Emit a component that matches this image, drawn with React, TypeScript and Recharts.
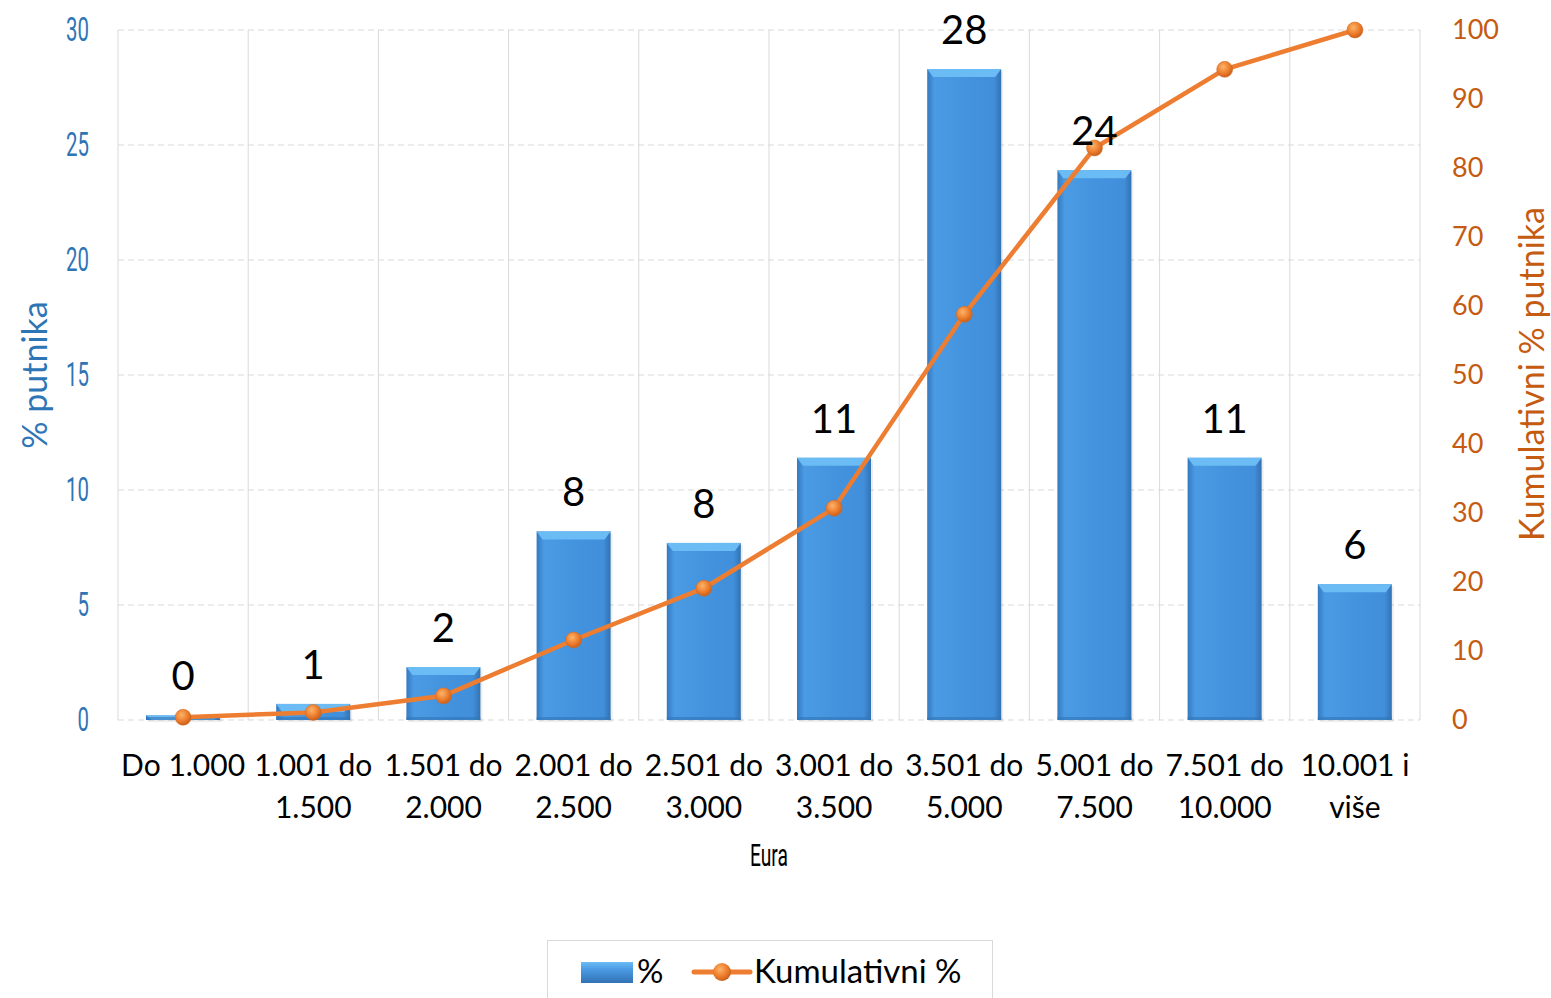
import React from 'react';
import { ComposedChart, Bar, Line, XAxis, YAxis, CartesianGrid, LabelList } from 'recharts';

const categories = [
  'Do 1.000',
  '1.001 do\n1.500',
  '1.501 do\n2.000',
  '2.001 do\n2.500',
  '2.501 do\n3.000',
  '3.001 do\n3.500',
  '3.501 do\n5.000',
  '5.001 do\n7.500',
  '7.501 do\n10.000',
  '10.001 i\nviše',
];
const pctValues = [0.2, 0.7, 2.3, 8.2, 7.7, 11.4, 28.3, 23.9, 11.4, 5.9];
const cumValues = [0.4, 1.1, 3.5, 11.6, 19.1, 30.7, 58.8, 82.9, 94.3, 100];
const leftTicks = [0, 5, 10, 15, 20, 25, 30];
const rightTicks = [0, 10, 20, 30, 40, 50, 60, 70, 80, 90, 100];

const data = categories.map((name, i) => ({ name, pct: pctValues[i], cum: cumValues[i] }));

const BLUE_TEXT = '#2E75B6';
const ORANGE_TEXT = '#C55A11';
const GRID = '#d9d9d9';

const LeftTick = ({ x, y, payload }: any) => (
  <text
    x={x}
    y={y - 1}
    textAnchor="end"
    dominantBaseline="central"
    fill={BLUE_TEXT}
    fontFamily="Roboto"
    fontSize={34}
    transform={`translate(${x},0) scale(0.6,1) translate(${-x},0)`}
  >
    {payload.value}
  </text>
);

const RightTick = ({ x, y, payload }: any) => (
  <text x={x} y={y - 2} textAnchor="start" dominantBaseline="central" fill={ORANGE_TEXT} fontFamily="Lato" fontSize={27}>
    {payload.value}
  </text>
);

const CategoryTick = ({ x, y, payload }: any) => {
  const lines = String(payload.value).split('\n');
  return (
    <text x={x} textAnchor="middle" fill="#000" fontFamily="Lato" fontSize={30}>
      {lines.map((l, i) => (
        <tspan key={i} x={x} y={y + 56 + i * 42}>
          {l}
        </tspan>
      ))}
    </text>
  );
};

const GlassBar = ({ x, y, width, height }: any) => {
  if (!height || height <= 0) return null;
  const bev = Math.min(8, height);
  return (
    <g>
      <rect x={x + 2} y={y + 2} width={width} height={height} fill="rgba(0,0,0,0.07)" />
      <rect x={x} y={y} width={width} height={height} fill="url(#barGrad)" />
      <polygon
        points={`${x},${y} ${x + width},${y} ${x + width - 6},${y + bev} ${x + 6},${y + bev}`}
        fill="#6BBBF5"
      />
      <rect x={x} y={y + height - 3} width={width} height={3} fill="#3274B5" opacity={0.6} />
    </g>
  );
};

const OrangeDot = ({ cx, cy, index }: any) => (
  <circle key={index} cx={cx} cy={cy} r={8} fill="url(#dotGrad)" stroke="#D4691E" strokeWidth={0.5} />
);

const verticalGen = ({ offset }: any) => {
  const n = categories.length;
  const pts: number[] = [];
  for (let i = 0; i <= n; i++) pts.push(offset.left + (i * offset.width) / n);
  return pts;
};

const App: React.FC = () => {
  return (
    <div style={{ position: 'absolute', left: 0, top: 0, width: 1551, height: 998, overflow: 'hidden', background: '#fff' }}>
      <ComposedChart width={1551} height={998} data={data} margin={{ top: 30, right: 0, bottom: 0, left: 0 }}>
        <defs>
          <linearGradient id="barGrad" x1="0" y1="0" x2="1" y2="0">
            <stop offset="0%" stopColor="#3479C0" />
            <stop offset="10%" stopColor="#4A9BE4" />
            <stop offset="50%" stopColor="#4493DE" />
            <stop offset="90%" stopColor="#418FDA" />
            <stop offset="100%" stopColor="#3272B3" />
          </linearGradient>
          <radialGradient id="dotGrad" cx="40%" cy="35%" r="65%">
            <stop offset="0%" stopColor="#FBB46A" />
            <stop offset="60%" stopColor="#EE7E2E" />
            <stop offset="100%" stopColor="#C9601A" />
          </radialGradient>
        </defs>
        <CartesianGrid yAxisId="left" vertical={false} stroke={GRID} strokeDasharray="6 4" />
        <CartesianGrid yAxisId="left" horizontal={false} stroke={GRID} verticalCoordinatesGenerator={verticalGen} />
        <XAxis
          dataKey="name"
          interval={0}
          height={278}
          axisLine={false}
          tickLine={false}
          tickSize={0}
          tickMargin={0}
          tick={<CategoryTick />}
          label={{
            content: (p: any) => {
              const vb = p.viewBox;
              const cx = vb.x + vb.width / 2;
              const cy = vb.y + 146;
              return (
                <text
                  x={cx}
                  y={cy}
                  textAnchor="middle"
                  fill="#000"
                  fontFamily="Roboto"
                  fontSize={32}
                  transform={`translate(${cx},0) scale(0.6,1) translate(${-cx},0)`}
                >
                  Eura
                </text>
              );
            },
          }}
        />
        <YAxis
          yAxisId="left"
          width={118}
          domain={[0, 30]}
          ticks={leftTicks}
          axisLine={false}
          tickLine={false}
          tickSize={0}
          tickMargin={29}
          tick={<LeftTick />}
          label={{
            content: (p: any) => {
              const vb = p.viewBox;
              const tx = vb.x + 33;
              const ty = vb.y + vb.height / 2;
              return (
                <text
                  x={tx}
                  y={ty}
                  textAnchor="middle"
                  dominantBaseline="central"
                  fill={BLUE_TEXT}
                  fontFamily="Lato"
                  fontSize={34}
                  transform={`rotate(-90, ${tx}, ${ty})`}
                >
                  % putnika
                </text>
              );
            },
          }}
        />
        <YAxis
          yAxisId="right"
          orientation="right"
          width={131}
          domain={[0, 100]}
          ticks={rightTicks}
          axisLine={false}
          tickLine={false}
          tickSize={0}
          tickMargin={32}
          tick={<RightTick />}
          label={{
            content: (p: any) => {
              const vb = p.viewBox;
              const tx = vb.x + 110;
              const ty = vb.y + vb.height / 2 - 1;
              return (
                <text
                  x={tx}
                  y={ty}
                  textAnchor="middle"
                  dominantBaseline="central"
                  fill={ORANGE_TEXT}
                  fontFamily="Lato"
                  fontSize={34}
                  transform={`rotate(-90, ${tx}, ${ty})`}
                >
                  Kumulativni % putnika
                </text>
              );
            },
          }}
        />
        <Bar yAxisId="left" dataKey="pct" barSize={74} shape={<GlassBar />} isAnimationActive={false}>
          <LabelList
            dataKey="pct"
            position="top"
            offset={25}
            formatter={(v: any) => Math.round(Number(v))}
            fill="#000"
            fontFamily="Lato"
            fontSize={40}
          />
        </Bar>
        <Line
          yAxisId="right"
          type="linear"
          dataKey="cum"
          stroke="#ED7D31"
          strokeWidth={4.5}
          dot={<OrangeDot />}
          activeDot={false}
          isAnimationActive={false}
        />
      </ComposedChart>
      <div
        style={{
          position: 'absolute',
          left: 547,
          top: 940,
          width: 446,
          height: 80,
          border: '1.5px solid #d9d9d9',
          background: '#fff',
          boxSizing: 'border-box',
        }}
      >
        <svg width={446} height={80} style={{ position: 'absolute', left: 0, top: 0 }}>
          <defs>
            <linearGradient id="legBar" x1="0" y1="0" x2="0" y2="1">
              <stop offset="0%" stopColor="#6BBBF5" />
              <stop offset="35%" stopColor="#4A9BE4" />
              <stop offset="100%" stopColor="#3272B3" />
            </linearGradient>
            <radialGradient id="legDot" cx="40%" cy="35%" r="65%">
              <stop offset="0%" stopColor="#FBB46A" />
              <stop offset="60%" stopColor="#EE7E2E" />
              <stop offset="100%" stopColor="#C9601A" />
            </radialGradient>
          </defs>
          <rect x={33} y={21} width={52} height={21} fill="url(#legBar)" />
          <text x={89} y={42} fontFamily="Lato" fontSize={33} fill="#000">%</text>
          <line x1={146} y1={31} x2={202} y2={31} stroke="#ED7D31" strokeWidth={5} strokeLinecap="round" />
          <circle cx={174} cy={31} r={9} fill="url(#legDot)" />
          <text x={206} y={42} fontFamily="Lato" fontSize={33} fill="#000">Kumulativni %</text>
        </svg>
      </div>
    </div>
  );
};

export default App;
